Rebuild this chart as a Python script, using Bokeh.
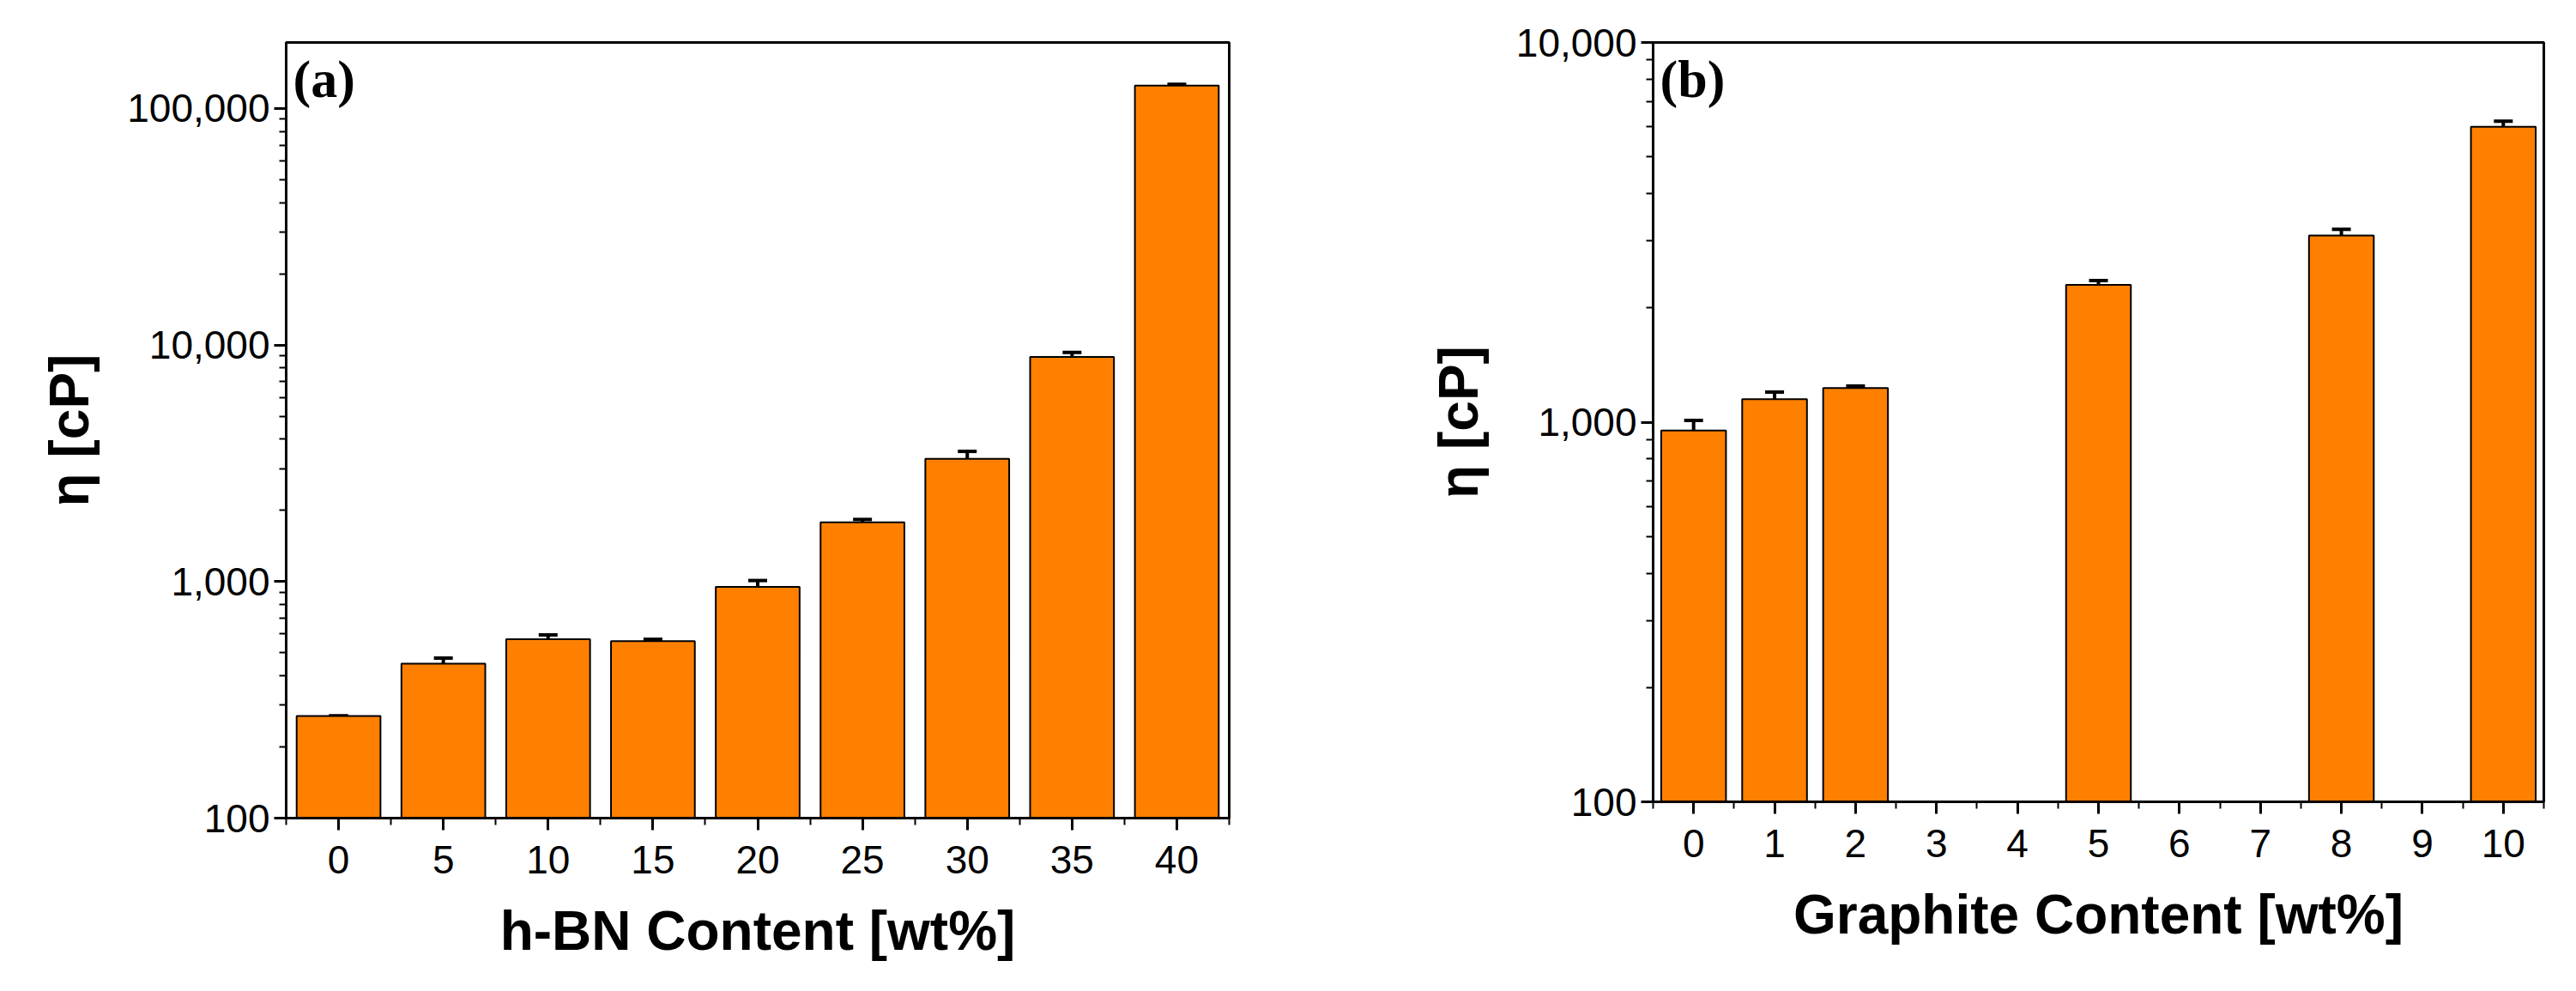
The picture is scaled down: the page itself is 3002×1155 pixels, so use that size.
from bokeh.plotting import figure
from bokeh.models import (ColumnDataSource, FixedTicker, NumeralTickFormatter, Whisker, TeeHead, Label, Range1d, LogTicker)
from bokeh.layouts import row
from bokeh.embed import file_html
from bokeh.resources import INLINE

hbn_content = [0, 5, 10, 15, 20, 25, 30, 35, 40]
hbn_visc = [270, 450, 570, 560, 950, 1780, 3300, 8900, 125000]
hbn_err = [0, 25, 25, 10, 60, 50, 250, 400, 1500]

gr_content = [0, 1, 2, 5, 8, 10]
gr_visc = [950, 1150, 1230, 2300, 3100, 6000]
gr_err = [60, 50, 15, 60, 120, 200]

ORANGE = "#FF8000"
TICK_FONT = "Liberation Sans"

def make(xs, ys, es, width, xr, yr, xticks, xminor, label, tag, fw, fh, bl, br, bt):
    p = figure(y_axis_type="log", x_range=Range1d(*xr), y_range=Range1d(*yr),
               frame_width=fw, frame_height=fh, min_border_left=bl, min_border_right=br,
               min_border_top=bt, min_border_bottom=1155 - 16 - bt - fh,
               output_backend="svg", toolbar_location=None)
    src = ColumnDataSource(dict(x=xs, y=ys, lo=[a - b for a, b in zip(ys, es)],
                                hi=[a + b for a, b in zip(ys, es)]))
    p.vbar(x="x", top="y", bottom=yr[0], width=width, source=src,
           fill_color=ORANGE, line_color="black", line_width=2)
    w = Whisker(base="x", lower="lo", upper="hi", source=src, line_color="black", line_width=4,
                upper_head=TeeHead(size=22, line_width=4, line_color="black"),
                lower_head=TeeHead(size=22, line_width=4, line_color="black"))
    p.add_layout(w)
    p.grid.visible = False
    p.outline_line_color = "black"
    p.outline_line_width = 3
    p.xaxis.ticker = FixedTicker(ticks=xticks, minor_ticks=xminor)
    p.yaxis.ticker = LogTicker(num_minor_ticks=10)
    p.yaxis.formatter = NumeralTickFormatter(format="0,0")
    for ax in (p.xaxis, p.yaxis):
        ax.axis_line_width = 3
        ax.major_tick_line_width = 3
        ax.minor_tick_line_width = 2
        ax.major_tick_out = 14
        ax.major_tick_in = 0
        ax.minor_tick_out = 8
        ax.minor_tick_in = 0
        ax.major_label_text_font = TICK_FONT
        ax.major_label_text_font_size = "46px"
        ax.major_label_text_color = "black"
        ax.axis_label_text_font = TICK_FONT
        ax.axis_label_text_font_style = "bold"
        ax.axis_label_text_font_size = "64px"
        ax.axis_label_text_color = "black"
    p.xaxis.major_label_standoff = 18
    p.xaxis.axis_label_standoff = 28
    p.yaxis.axis_label_standoff = 28
    p.xaxis.axis_label = label
    p.yaxis.axis_label = "η [cP]"
    p.add_layout(Label(x=8, y=fh - 76, x_units="screen", y_units="screen", text=tag,
                       text_font="Liberation Serif", text_font_style="bold",
                       text_font_size="62px", text_color="black"))
    return p

pa = make(hbn_content, hbn_visc, hbn_err, 4.0, (-2.5, 42.5), (100, 190000),
          hbn_content, [2.5 + 5 * i for i in range(-1, 9)],
          "h-BN Content [wt%]", "(a)", 1099, 904, 333, 194, 30)
pb = make(gr_content, gr_visc, gr_err, 0.8, (-0.5, 10.5), (100, 10000),
          list(range(11)), [0.5 + i for i in range(-1, 11)],
          "Graphite Content [wt%]", "(b)", 1038, 885, 300, 10, 49)

open("out.html", "w").write(file_html(row(pa, pb), INLINE))
